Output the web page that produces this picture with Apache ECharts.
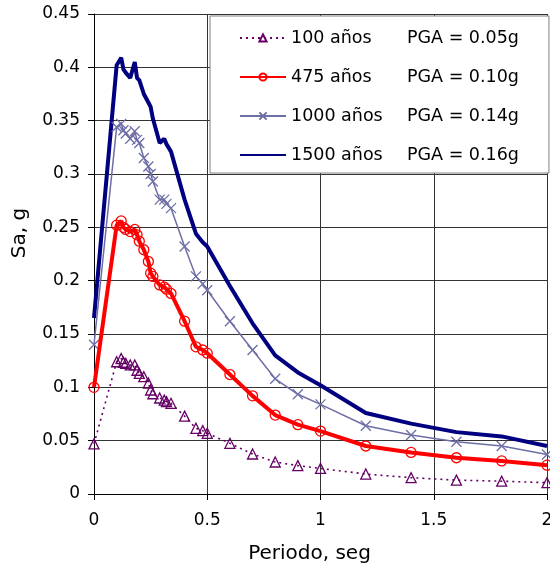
<!DOCTYPE html>
<html>
<head>
<meta charset="utf-8">
<script src="https://cdn.jsdelivr.net/npm/echarts@6/dist/echarts.min.js"></script>
<style>html,body{margin:0;padding:0;background:#fff;}#c{width:550px;height:566px;}</style>
</head>
<body>
<div id="c"></div>
<script>
const periods = [0, 0.10, 0.12, 0.13, 0.14, 0.16, 0.18, 0.19, 0.20, 0.22, 0.24, 0.25, 0.26, 0.29, 0.31, 0.32, 0.34, 0.40, 0.45, 0.48, 0.50, 0.6, 0.7, 0.8, 0.9, 1.0, 1.2, 1.4, 1.6, 1.8, 2.0];
const sa100  = [0.047, 0.124, 0.127, 0.1235, 0.1225, 0.121, 0.121, 0.116, 0.113, 0.110, 0.104, 0.0975, 0.094, 0.090, 0.088, 0.0866, 0.085, 0.073, 0.0616, 0.0594, 0.0569, 0.0475, 0.0375, 0.030, 0.0266, 0.024, 0.0187, 0.0153, 0.013, 0.012, 0.0106];
const sa475  = [0.100, 0.252, 0.256, 0.250, 0.248, 0.246, 0.248, 0.243, 0.237, 0.229, 0.218, 0.207, 0.204, 0.196, 0.194, 0.192, 0.188, 0.162, 0.138, 0.135, 0.132, 0.112, 0.092, 0.074, 0.065, 0.059, 0.045, 0.039, 0.034, 0.031, 0.027];
const sa1000 = [0.140, 0.344, 0.347, 0.341, 0.338, 0.333, 0.340, 0.332, 0.329, 0.315, 0.307, 0.300, 0.293, 0.276, 0.276, 0.272, 0.268, 0.232, 0.204, 0.197, 0.191, 0.162, 0.135, 0.108, 0.0935, 0.084, 0.064, 0.0553, 0.049, 0.045, 0.037];
const sa1500 = [0.165, 0.402, 0.409, 0.398, 0.395, 0.390, 0.405, 0.390, 0.388, 0.375, 0.367, 0.363, 0.352, 0.329, 0.333, 0.328, 0.321, 0.276, 0.244, 0.236, 0.232, 0.195, 0.160, 0.130, 0.114, 0.102, 0.076, 0.066, 0.058, 0.054, 0.045];
const seriesNames = ['100 años', '475 años', '1000 años', '1500 años'];
const pgaLabels = ['PGA = 0.05g', 'PGA = 0.10g', 'PGA = 0.14g', 'PGA = 0.16g'];
const xTitle = 'Periodo, seg';
const yTitle = 'Sa, g';

const FONT = 'DejaVu Sans';
const pairs = arr => periods.map((p, i) => [p, arr[i]]);

const chart = echarts.init(document.getElementById('c'), null, {renderer: 'canvas'});
chart.setOption({
  animation: false,
  backgroundColor: '#fff',
  textStyle: {fontFamily: FONT},
  grid: {left: 94, right: 3, top: 14, bottom: 72, outerBoundsMode: 'none', containLabel: false},
  legend: {
    orient: 'vertical',
    left: 210, top: 16,
    padding: [12, 30, 8, 29],
    itemWidth: 46, itemHeight: 9,
    itemGap: 19,
    backgroundColor: '#fff',
    borderColor: '#808080', borderWidth: 1,
    data: [
      {name: seriesNames[0]},
      {name: seriesNames[1]},
      {name: seriesNames[2]},
      {name: seriesNames[3], itemStyle: {opacity: 0}}
    ],
    formatter: name => {
      const i = seriesNames.indexOf(name);
      return '{a|' + name + '}{b|' + pgaLabels[i] + '}';
    },
    textStyle: {
      fontFamily: FONT, fontSize: 17.5, color: '#000', lineHeight: 20,
      rich: {
        a: {fontFamily: FONT, fontSize: 17.5, width: 116, color: '#000'},
        b: {fontFamily: FONT, fontSize: 17.5, color: '#000'}
      }
    }
  },
  xAxis: {
    type: 'value', min: 0, max: 2, interval: 0.5,
    name: xTitle, nameLocation: 'middle', nameGap: 50,
    nameTextStyle: {fontFamily: FONT, fontSize: 20, color: '#000', padding: [0, 22, 0, 0]},
    axisLine: {show: true, lineStyle: {color: '#000', width: 1}},
    axisTick: {show: true, length: 6, lineStyle: {color: '#000'}},
    axisLabel: {fontFamily: FONT, fontSize: 17, color: '#000', margin: 18},
    splitLine: {show: true, lineStyle: {color: '#333', width: 1}}
  },
  yAxis: {
    type: 'value', min: 0, max: 0.45, interval: 0.05,
    name: yTitle, nameLocation: 'middle', nameGap: 64, nameRotate: 90,
    nameTextStyle: {fontFamily: FONT, fontSize: 20, color: '#000', padding: [0, 0, 0, 42]},
    axisLine: {show: true, lineStyle: {color: '#000', width: 1}},
    axisTick: {show: true, length: 6, lineStyle: {color: '#000'}},
    axisLabel: {fontFamily: FONT, fontSize: 17, color: '#000', margin: 14},
    splitLine: {show: true, lineStyle: {color: '#333', width: 1}}
  },
  series: [
    {
      name: seriesNames[0], type: 'line', data: pairs(sa100),
      symbol: 'triangle', symbolSize: 10,
      itemStyle: {color: 'none', borderColor: '#660066', borderWidth: 1.3},
      lineStyle: {color: '#660066', width: 1.6, type: [2, 4]},
      z: 5
    },
    {
      name: seriesNames[1], type: 'line', data: pairs(sa475),
      symbol: 'circle', symbolSize: 10,
      itemStyle: {color: 'none', borderColor: '#ff0000', borderWidth: 1.3},
      lineStyle: {color: '#ff0000', width: 4},
      z: 4
    },
    {
      name: seriesNames[2], type: 'line', data: pairs(sa1000),
      symbol: 'path://M0,0L10,10M10,0L0,10', symbolSize: 10,
      itemStyle: {color: 'none', borderColor: '#6e6ea6', borderWidth: 1.3},
      lineStyle: {color: '#6e6ea6', width: 1.5},
      z: 3
    },
    {
      name: seriesNames[3], type: 'line', data: pairs(sa1500),
      symbol: 'none',
      itemStyle: {color: '#000080'},
      lineStyle: {color: '#000080', width: 4},
      z: 2
    }
  ]
});
</script>
</body>
</html>
